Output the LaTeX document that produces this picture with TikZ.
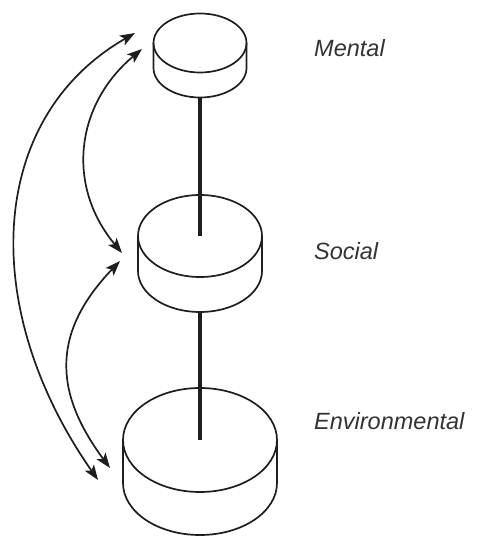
\documentclass[tikz,border=0pt]{standalone}
\usepackage{fontspec}
\setmainfont{Liberation Sans}
\usetikzlibrary{arrows.meta}
\definecolor{ink}{HTML}{1E1E1E}
\definecolor{txt}{HTML}{333333}
\tikzset{
  outline/.style={draw=ink, line width=1.7pt},
  stem/.style={draw=ink, line width=3.2pt},
  link/.style={draw=ink, line width=1.7pt, {Stealth[length=15pt,width=11pt,inset=3.5pt]}-{Stealth[length=15pt,width=11pt,inset=3.5pt]}},
  lbl/.style={anchor=base west, inner sep=0pt, text=txt, font=\fontsize{23.5pt}{26pt}\selectfont\itshape}
}
\begin{document}
\begin{tikzpicture}[x=1pt,y=-1pt]
\useasboundingbox (0,0) rectangle (482,537);
% Mental cylinder
\coordinate (mtop) at (200,43);
\coordinate (mbot) at (200,97.5);
\draw[outline] (mtop) ellipse [x radius=46.5pt, y radius=29.5pt];
\draw[outline] (153.5,43) -- (153.5,68) arc[start angle=180,end angle=360,x radius=46.5pt,y radius=29.5pt] -- (246.5,43);
% Social cylinder
\coordinate (stop) at (200,236);
\coordinate (sbot) at (200,312);
\draw[outline] (stop) ellipse [x radius=62pt, y radius=41pt];
\draw[outline] (138,236) -- (138,271) arc[start angle=180,end angle=360,x radius=62pt,y radius=41pt] -- (262,236);
% Environmental cylinder
\coordinate (etop) at (200,440);
\coordinate (ebot) at (200,535);
\draw[outline] (etop) ellipse [x radius=77pt, y radius=52pt];
\draw[outline] (123,440) -- (123,483) arc[start angle=180,end angle=360,x radius=77pt,y radius=52pt] -- (277,440);
% stems
\draw[stem] (mbot) -- (stop);
\draw[stem] (sbot) -- (etop);
% arrow ends
\coordinate (a1) at (135,33);
\coordinate (a2) at (98,480);
\coordinate (b1) at (142,49);
\coordinate (b2) at (122,253);
\coordinate (c1) at (120,261);
\coordinate (c2) at (110,468);
\draw[link] (a1) .. controls (-13,118) and (-22,308) .. (a2);
\draw[link] (b1) .. controls (75,105) and (66,186) .. (b2);
\draw[link] (c1) .. controls (53,331) and (52,390) .. (c2);
% labels
\node[lbl] (lm) at (314,57) {Mental};
\node[lbl] (ls) at (314,259) {Social};
\node[lbl] (le) at (314,429) {Environmental};
\end{tikzpicture}
\end{document}
